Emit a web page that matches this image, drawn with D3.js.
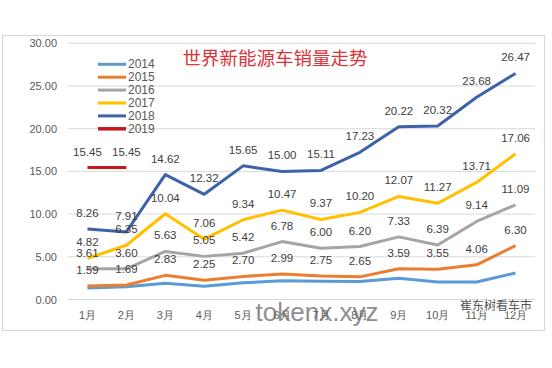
<!DOCTYPE html>
<html><head><meta charset="utf-8">
<script src="https://cdn.jsdelivr.net/npm/d3@7"></script>
<style>body{margin:0;background:#fff}svg{display:block}</style>
</head><body>
<svg id="c" width="552" height="368"></svg>
<script>
const months = ["1月","2月","3月","4月","5月","6月","7月","8月","9月","10月","11月","12月"];
const yTicks = [0,5,10,15,20,25,30];
const title = "世界新能源车销量走势";
const v2014 = [1.35,1.50,1.90,1.55,1.95,2.20,2.15,2.10,2.50,2.05,2.05,3.10];
const v2015 = [1.59,1.69,2.83,2.25,2.70,2.99,2.75,2.65,3.59,3.55,4.06,6.30];
const v2016 = [3.61,3.60,5.63,5.05,5.42,6.78,6.00,6.20,7.33,6.39,9.14,11.09];
const v2017 = [4.82,6.35,10.04,7.06,9.34,10.47,9.37,10.20,12.07,11.27,13.71,17.06];
const v2018 = [8.26,7.91,14.62,12.32,15.65,15.00,15.11,17.23,20.22,20.32,23.68,26.47];
const v2019 = [15.45,15.45];
const seriesNames = ["2014","2015","2016","2017","2018","2019"];
const seriesValues = [v2014,v2015,v2016,v2017,v2018,v2019];
const seriesLabeled = [false,true,true,true,true,true];
const colors = ["#5B9BD5","#ED7D31","#A5A5A5","#FFC000","#3E62A8","#C8161D"];

const svg = d3.select("#c");
const font = "'Liberation Sans', Arial, sans-serif";
const cjk = "'Noto Sans CJK SC', sans-serif";

// outer frame
svg.append("rect").attr("x",2.5).attr("y",35.5).attr("width",542).attr("height",295)
  .attr("fill","#fff").attr("stroke","#d9d9d9").attr("stroke-width",1.2);

const x = d3.scaleBand().domain(months).range([68,535]).padding(0);
const cx = d => x(d) + x.bandwidth()/2;
const y = d3.scaleLinear().domain([0,30]).range([299.5,43.3]);

// gridlines
svg.append("g").selectAll("line").data(yTicks).join("line")
  .attr("x1",68).attr("x2",535).attr("y1",d=>y(d)).attr("y2",d=>y(d))
  .attr("stroke","#d9d9d9").attr("stroke-width",1);

// y axis labels
const ya = svg.append("g").attr("transform","translate(57,0)")
  .call(d3.axisLeft(y).tickValues(yTicks).tickSize(0).tickPadding(0).tickFormat(d3.format(".2f")));
ya.select(".domain").remove();
ya.selectAll("text").attr("font-family",font).attr("font-size",11).attr("fill","#595959");

// x axis labels
const xa = svg.append("g").attr("transform","translate(0,311)")
  .call(d3.axisBottom(x).tickSize(0).tickPadding(0));
xa.select(".domain").remove();
xa.selectAll("text").attr("font-family",font).attr("font-size",11).attr("fill","#595959");

// lines
const line = d3.line().x((d,i)=>cx(months[i])).y(d=>y(d));
seriesValues.forEach((vals,k)=>{
  svg.append("path").datum(vals).attr("d",line).attr("fill","none")
    .attr("stroke",colors[k]).attr("stroke-width",3).attr("stroke-linejoin","round");
});

// data labels
seriesValues.forEach((vals,k)=>{
  if(!seriesLabeled[k]) return;
  svg.append("g").selectAll("text").data(vals).join("text")
    .attr("x",(d,i)=>cx(months[i])).attr("y",d=>y(d)-12)
    .attr("text-anchor","middle").attr("font-family",font).attr("font-size",11.5)
    .attr("fill","#404040").text(d=>d.toFixed(2));
});

// legend
const lg = svg.append("g").selectAll("g").data(seriesNames).join("g")
  .attr("transform",(d,i)=>`translate(98,${64.3+i*12.9})`);
lg.append("line").attr("x1",0).attr("x2",28).attr("y1",0).attr("y2",0)
  .attr("stroke",(d,i)=>colors[i]).attr("stroke-width",(d,i)=>i===5?3.5:3);
lg.append("text").attr("x",30).attr("y",4).attr("font-family",font).attr("font-size",12)
  .attr("fill","#595959").text(d=>d);

// title
svg.append("text").attr("x",275).attr("y",65).attr("text-anchor","middle")
  .attr("font-family",cjk).attr("font-size",18.5).attr("fill","#D9343A").text(title);

// watermarks
svg.append("text").attr("x",317).attr("y",321).attr("text-anchor","middle")
  .attr("font-family",font).attr("font-size",26).attr("fill","#6a6a6a").attr("opacity",0.75)
  .text("tokenx.xyz");
svg.append("text").attr("x",460).attr("y",310).attr("font-family",cjk).attr("font-size",12)
  .attr("fill","#555").attr("stroke","#fff").attr("stroke-width",2).attr("paint-order","stroke")
  .text("崔东树看车市");
</script>
</body></html>
